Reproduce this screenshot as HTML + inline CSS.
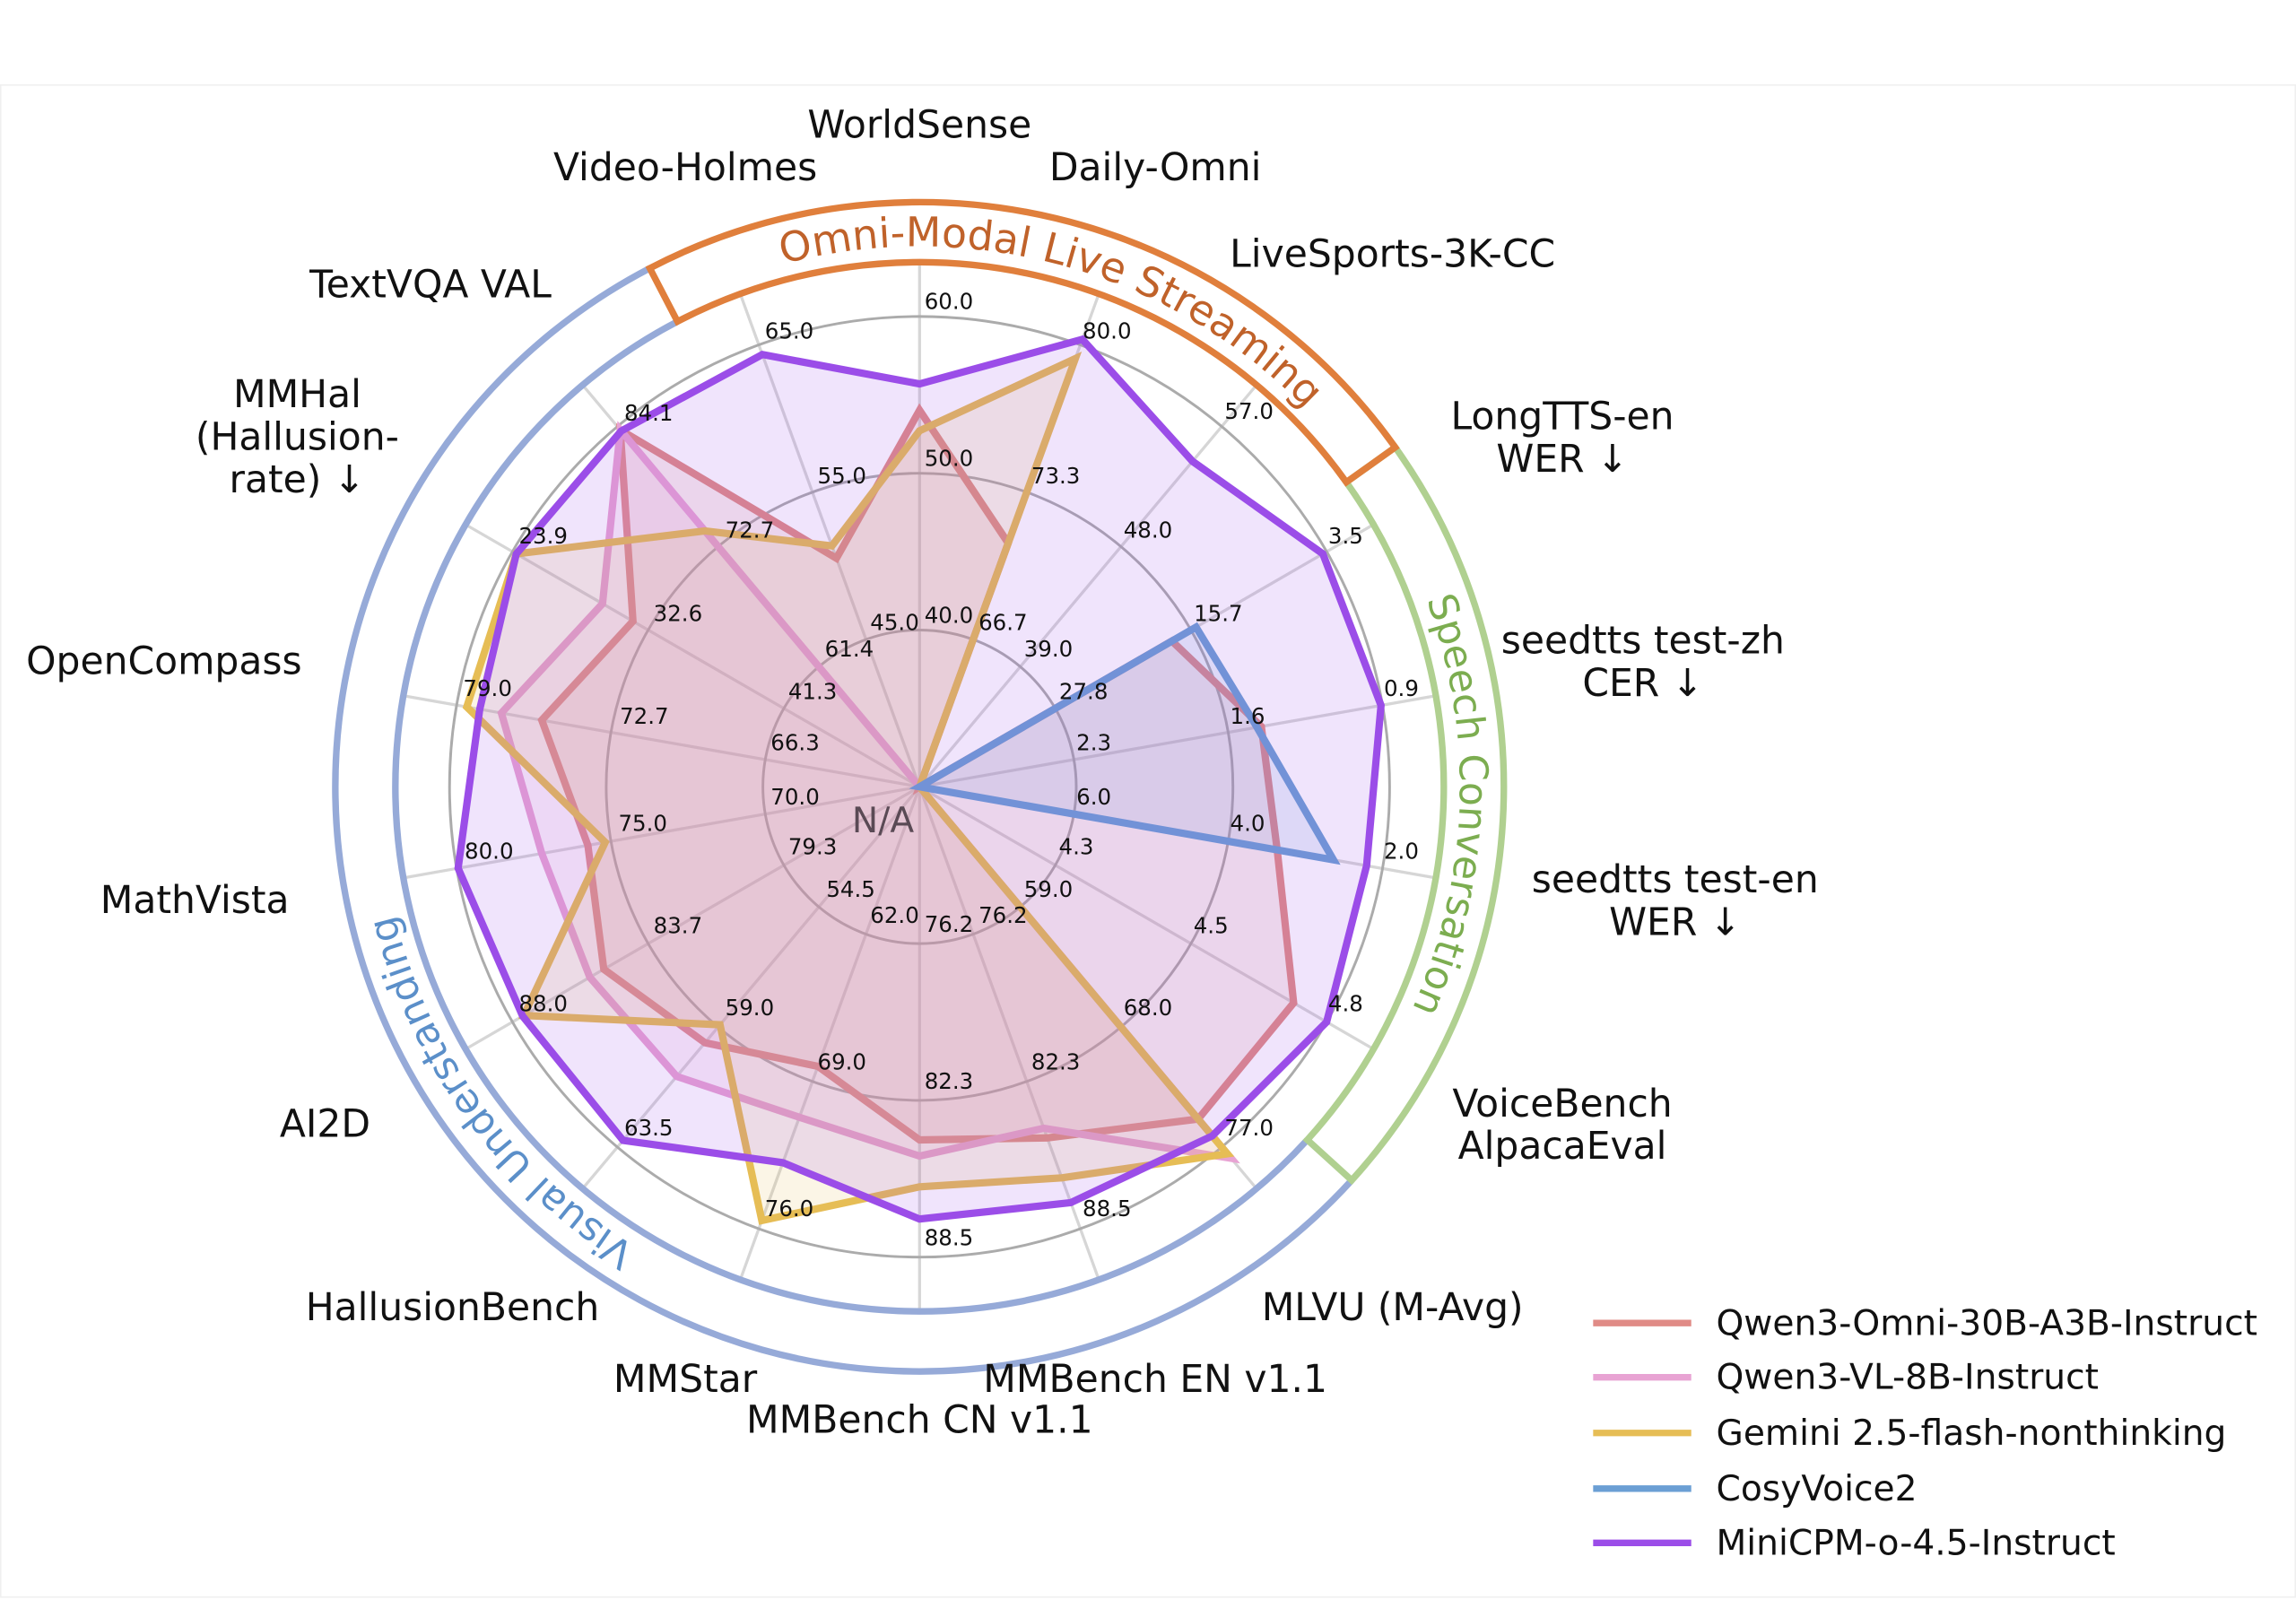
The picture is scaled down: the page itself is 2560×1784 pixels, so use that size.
<!DOCTYPE html>
<html><head><meta charset="utf-8"><style>
html,body{margin:0;padding:0;background:#fff;}
svg{display:block;}
text{font-family:"DejaVu Sans","Liberation Sans",sans-serif;}
.t{font-size:15px;fill:#111;text-anchor:middle;}
.ax{font-size:26px;fill:#111;text-anchor:middle;}
.lg{font-size:24px;fill:#111;}
</style></head><body>
<svg id="s" width="2560" height="1784" viewBox="0 0 1568 1092" preserveAspectRatio="none" xmlns="http://www.w3.org/2000/svg">
<rect x="0.5" y="58" width="1567" height="1032" fill="none" stroke="#f0f0f0" stroke-width="1"/>
<g id="grid"></g>
<g id="series"></g>
<g id="bands"></g>
<defs>
<path id="pO"/><path id="pG"/><path id="pB"/>
</defs>
<text style="font-size:28px;fill:#c0622a;text-anchor:middle"><textPath href="#pO" startOffset="50%">Omni-Modal Live Streaming</textPath></text>
<text style="font-size:27px;fill:#7cad50;text-anchor:middle"><textPath href="#pG" startOffset="50%">Speech Conversation</textPath></text>
<text style="font-size:27px;fill:#5b8fc9;text-anchor:middle"><textPath href="#pB" startOffset="50%">Visual Understanding</textPath></text>

<g>
<text class="t" x="648" y="211">60.0</text><text class="t" x="648" y="318">50.0</text><text class="t" x="648" y="425">40.0</text>
<text class="t" x="539" y="231">65.0</text><text class="t" x="575" y="330">55.0</text><text class="t" x="611" y="430">45.0</text>
<text class="t" x="443" y="287">84.1</text><text class="t" x="512" y="367">72.7</text><text class="t" x="580" y="448">61.4</text>
<text class="t" x="371" y="371">23.9</text><text class="t" x="463" y="424">32.6</text><text class="t" x="555" y="477">41.3</text>
<text class="t" x="333" y="475">79.0</text><text class="t" x="440" y="494">72.7</text><text class="t" x="543" y="512">66.3</text>
<text class="t" x="334" y="586">80.0</text><text class="t" x="439" y="567">75.0</text><text class="t" x="543" y="549">70.0</text>
<text class="t" x="371" y="690">88.0</text><text class="t" x="463" y="637">83.7</text><text class="t" x="555" y="583">79.3</text>
<text class="t" x="443" y="775">63.5</text><text class="t" x="512" y="693">59.0</text><text class="t" x="581" y="612">54.5</text>
<text class="t" x="539" y="830">76.0</text><text class="t" x="575" y="730">69.0</text><text class="t" x="611" y="630">62.0</text>
<text class="t" x="648" y="850">88.5</text><text class="t" x="648" y="743">82.3</text><text class="t" x="648" y="636">76.2</text>
<text class="t" x="756" y="830">88.5</text><text class="t" x="721" y="730">82.3</text><text class="t" x="685" y="630">76.2</text>
<text class="t" x="853" y="775">77.0</text><text class="t" x="784" y="693">68.0</text><text class="t" x="716" y="612">59.0</text>
<text class="t" x="919" y="690">4.8</text><text class="t" x="827" y="637">4.5</text><text class="t" x="735" y="583">4.3</text>
<text class="t" x="957" y="586">2.0</text><text class="t" x="852" y="567">4.0</text><text class="t" x="747" y="549">6.0</text>
<text class="t" x="957" y="475">0.9</text><text class="t" x="852" y="494">1.6</text><text class="t" x="747" y="512">2.3</text>
<text class="t" x="919" y="371">3.5</text><text class="t" x="832" y="424">15.7</text><text class="t" x="740" y="477">27.8</text>
<text class="t" x="853" y="286">57.0</text><text class="t" x="784" y="367">48.0</text><text class="t" x="716" y="448">39.0</text>
<text class="t" x="756" y="231">80.0</text><text class="t" x="721" y="330">73.3</text><text class="t" x="685" y="430">66.7</text>
<text x="603" y="568" style="font-size:24px;fill:#5a4a55;text-anchor:middle">N/A</text>
</g>

<g>
<text class="ax" x="628" y="94">WorldSense</text>
<text class="ax" x="468" y="123">Video-Holmes</text>
<text class="ax" x="789" y="123">Daily-Omni</text>
<text class="ax" x="951" y="182">LiveSports-3K-CC</text>
<text class="ax" x="1067" y="293">LongTTS-en</text><text class="ax" x="1067" y="322">WER ↓</text>
<text class="ax" x="1122" y="446">seedtts test-zh</text><text class="ax" x="1122" y="475">CER ↓</text>
<text class="ax" x="1144" y="609">seedtts test-en</text><text class="ax" x="1144" y="638">WER ↓</text>
<text class="ax" x="1067" y="762">VoiceBench</text><text class="ax" x="1067" y="791">AlpacaEval</text>
<text class="ax" x="951" y="901">MLVU (M-Avg)</text>
<text class="ax" x="789" y="950">MMBench EN v1.1</text>
<text class="ax" x="628" y="978">MMBench CN v1.1</text>
<text class="ax" x="468" y="950">MMStar</text>
<text class="ax" x="309" y="901">HallusionBench</text>
<text class="ax" x="222" y="776">AI2D</text>
<text class="ax" x="133" y="623">MathVista</text>
<text class="ax" x="112" y="460">OpenCompass</text>
<text class="ax" x="203" y="278">MMHal</text><text class="ax" x="203" y="307">(Hallusion-</text><text class="ax" x="203" y="336">rate) ↓</text>
<text class="ax" x="294" y="203">TextVQA VAL</text>
</g>

<g stroke-width="4.5">
<line x1="1088" y1="903" x2="1155" y2="903" stroke="#e08b86"/>
<line x1="1088" y1="940" x2="1155" y2="940" stroke="#e8a3d3"/>
<line x1="1088" y1="978" x2="1155" y2="978" stroke="#e6bd55"/>
<line x1="1088" y1="1016" x2="1155" y2="1016" stroke="#6b9fd4"/>
<line x1="1088" y1="1053" x2="1155" y2="1053" stroke="#9b4de8"/>
</g>
<text class="lg" x="1172" y="911">Qwen3-Omni-30B-A3B-Instruct</text>
<text class="lg" x="1172" y="948">Qwen3-VL-8B-Instruct</text>
<text class="lg" x="1172" y="986">Gemini 2.5-flash-nonthinking</text>
<text class="lg" x="1172" y="1024">CosyVoice2</text>
<text class="lg" x="1172" y="1061">MiniCPM-o-4.5-Instruct</text>
</svg>
<script>
(function(){
var NS="http://www.w3.org/2000/svg",cx=628,cy=537;
function P(r,a){a=a*Math.PI/180;return [(cx+r*Math.sin(a)).toFixed(2),(cy-r*Math.cos(a)).toFixed(2)];}
function s(p){return p[0]+" "+p[1];}
function arc(r,a1,a2){var l=(a2-a1)>180?1:0;return "M"+s(P(r,a1))+" A"+r+" "+r+" 0 "+l+" 1 "+s(P(r,a2));}
function el(tag,attrs,parent){var e=document.createElementNS(NS,tag);for(var k in attrs)e.setAttribute(k,attrs[k]);parent.appendChild(e);return e;}
var grid=document.getElementById("grid");
for(var i=0;i<18;i++){var p=P(358,i*20);el("line",{x1:cx,y1:cy,x2:p[0],y2:p[1],stroke:"#d6d6d6","stroke-width":2},grid);}
[107,214,321].forEach(function(r){el("circle",{cx:cx,cy:cy,r:r,fill:"none",stroke:"#ababab","stroke-width":1.8},grid);});
var series=[
["#e08b86",[257,177,0,199,237,248,295,296,255,241,203,228,249,230,262,226,318,166]],
["#e8a3d3",[0,0,0,0,0,0,0,331,248,252,240,258,260,262,290,250,318,0]],
["#e6bd55",[243,311,0,0,0,0,0,327,284,273,315,212,312,218,314,318,228,175]],
["#6b9fd4",[0,0,0,218,234,287,0,0,0,0,0,0,0,0,0,0,0,0]],
["#9b4de8",[275,325,290,318,320,310,321,311,302,295,273,315,313,320,305,318,317,314]]];
var sg=document.getElementById("series");
series.forEach(function(sr){
 var pts=sr[1].map(function(r,i){return s(P(r,i*20));}).join(" ");
 el("polygon",{points:pts,fill:sr[0],"fill-opacity":0.15,stroke:"none"},sg);
 el("polygon",{points:pts,fill:"none",stroke:sr[0],"stroke-width":5,"stroke-linejoin":"miter"},sg);
});
var bg=document.getElementById("bands");
var ri=358,ro=399;
function band(a1,a2,col){
 var l=(a2-a1)>180?1:0;
 var d="M"+s(P(ri,a1))+" L"+s(P(ro,a1))+" A"+ro+" "+ro+" 0 "+l+" 1 "+s(P(ro,a2))+" L"+s(P(ri,a2))+" A"+ri+" "+ri+" 0 "+l+" 0 "+s(P(ri,a1))+" Z";
 el("path",{d:d,fill:"none",stroke:col,"stroke-width":4.5,"stroke-linejoin":"miter"},bg);
}
el("path",{d:arc(ri,132.3,332.5),fill:"none",stroke:"#96aad8","stroke-width":4.5},bg);
el("path",{d:arc(ro,132.3,332.5),fill:"none",stroke:"#96aad8","stroke-width":4.5},bg);
band(54.5,132.3,"#b0d090");
band(-27.5,54.5,"#e07f3c");
document.getElementById("pO").setAttribute("d",arc(369,15.5-90,15.5+90));
document.getElementById("pG").setAttribute("d",arc(369,92-90,92+90));
document.getElementById("pB").setAttribute("d",arc(369,234-90,234+90));
})();
</script>
</body></html>
